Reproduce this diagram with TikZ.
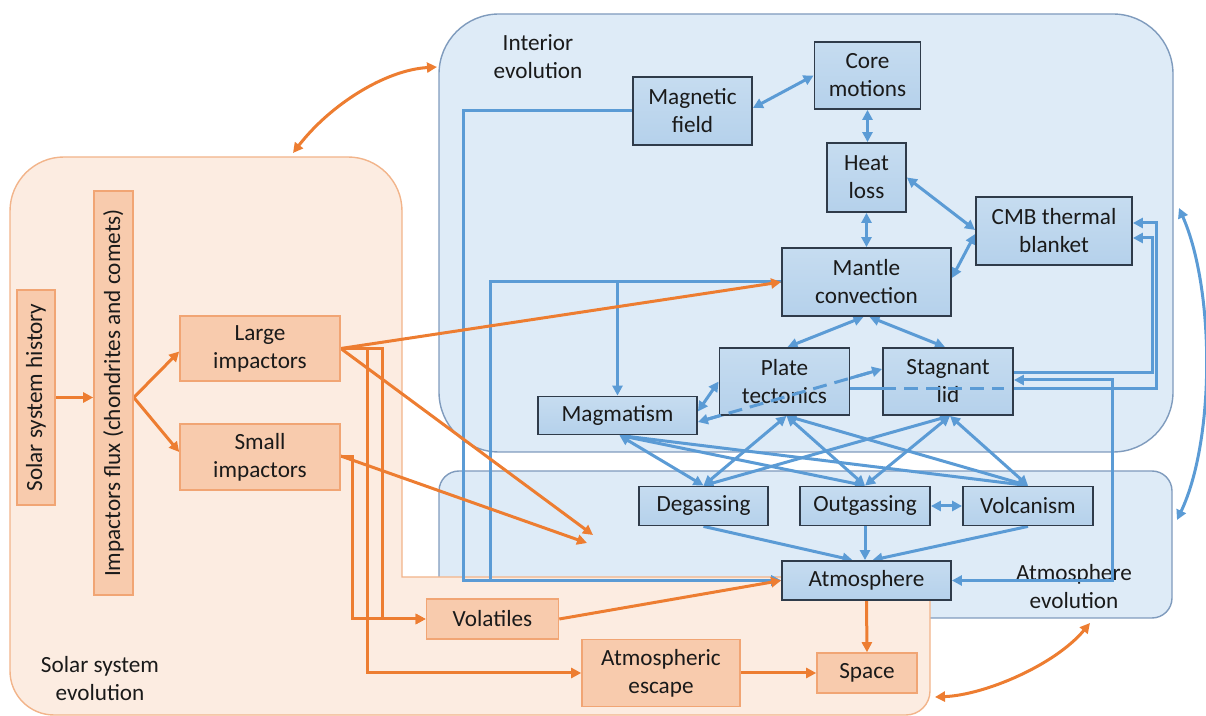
\documentclass[tikz,border=0pt]{standalone}
\usepackage{fontspec}
\setmainfont{Carlito}
\usetikzlibrary{arrows.meta,calc,positioning}
\definecolor{sysfill}{HTML}{FCECE1}
\definecolor{sysline}{HTML}{F2B48A}
\definecolor{obfill}{HTML}{F8CBAD}
\definecolor{obline}{HTML}{F1A574}
\definecolor{oarrow}{HTML}{ED7D31}
\definecolor{regfill}{HTML}{DEEBF7}
\definecolor{regline}{HTML}{7F9BBD}
\definecolor{bbtop}{HTML}{C6DCF0}
\definecolor{bbbot}{HTML}{B5D1EB}
\definecolor{bbline}{HTML}{2F3B4A}
\definecolor{barrow}{HTML}{5B9BD5}
\definecolor{txt}{HTML}{1A1A1A}
\pgfdeclarelayer{regions}
\pgfdeclarelayer{edges}
\pgfsetlayers{regions,edges,main}
\tikzset{
  boxsize/.style 2 args={minimum width=#1*0.5pt, minimum height=#2*0.5pt},
  obox/.style={draw=obline, fill=obfill, line width=0.8pt, align=center, inner sep=1pt},
  bbox/.style={draw=bbline, top color=bbtop, bottom color=bbbot, line width=0.9pt, align=center, inner sep=1pt},
  sysreg/.style={draw=sysline, fill=sysfill, line width=0.7pt},
  region/.style={draw=regline, fill=regfill, line width=0.7pt},
  oline/.style={draw=oarrow, line width=1.5pt},
  oarr/.style={oline, -{Triangle[length=5pt,width=5pt]}},
  odbl/.style={oline, {Triangle[length=5pt,width=5pt]}-{Triangle[length=5pt,width=5pt]}},
  bline/.style={draw=barrow, line width=1.5pt},
  barr/.style={bline, -{Triangle[length=5pt,width=5pt]}},
  bdbl/.style={bline, {Triangle[length=5pt,width=5pt]}-{Triangle[length=5pt,width=5pt]}},
  overdash/.style={bline, dash pattern=on 7pt off 4pt, shorten <=5pt, shorten >=5pt}
}
\begin{document}
\begin{tikzpicture}[x=0.5pt, y=-0.5pt, font=\fontsize{11.6}{14}\selectfont, text=txt]
\useasboundingbox (0,0) rectangle (1206,716);

% orange side
\node[obox, rotate=90, boxsize={215}{38}] (hist) at (36,397.5) {Solar system history};
\node[obox, rotate=90, boxsize={404}{39}] (flux) at (113.5,393) {Impactors flux (chondrites and comets)};
\node[obox, boxsize={160}{65}] (large) at (260,348.5) {Large\\impactors};
\node[obox, boxsize={160}{66}] (small) at (260,457) {Small\\impactors};
\node[obox, boxsize={132}{40}] (vol) at (492.5,619) {Volatiles};
\node[obox, boxsize={158}{67}] (esc) at (661,673) {Atmospheric\\escape};
\node[obox, boxsize={100}{40}] (space) at (867,673) {Space};

% blue side
\node[bbox, boxsize={119}{68}] (mfield) at (692.5,111) {Magnetic\\field};
\node[bbox, boxsize={106}{67}] (core) at (867.5,75.5) {Core\\motions};
\node[bbox, boxsize={79}{69}] (heat) at (866.5,177.5) {Heat\\loss};
\node[bbox, boxsize={156}{68}] (cmb) at (1054,231) {CMB thermal\\blanket};
\node[bbox, boxsize={169}{68}] (mant) at (866.5,282) {Mantle\\convection};
\node[bbox, boxsize={130}{67}] (plate) at (784.5,381.5) {Plate\\tectonics};
\node[bbox, boxsize={130}{67}] (stag) at (948,381.5) {Stagnant\\lid};
\node[bbox, boxsize={159}{38}] (magm) at (617.5,415.5) {Magmatism};
\node[bbox, boxsize={129}{39}] (degas) at (703.5,506) {Degassing};
\node[bbox, boxsize={130}{39}] (outg) at (865,506) {Outgassing};
\node[bbox, boxsize={130}{39}] (volc) at (1028,506) {Volcanism};
\node[bbox, boxsize={169}{39}] (atm) at (866.5,580.5) {Atmosphere};

\coordinate (hitA) at (593,535);
\coordinate (hitB) at (587,543);
\coordinate (lv) at (382,619);
\coordinate (sv) at (352,619);
\coordinate (le) at (367,673);
\coordinate (fbend) at (463,580.5);
\coordinate (mbend) at (490,580.5);
\coordinate (sbend) at (1112,580.5);
\coordinate (cb1) at (1152,238);
\coordinate (cb2) at (1156,223);
\coordinate (sysTop) at (293,153);
\coordinate (intLeft) at (437,67);
\coordinate (intRight) at (1179,208);
\coordinate (atmRight) at (1177,520);
\coordinate (atmBottom) at (1090,623);
\coordinate (sysRight) at (935,697);

\begin{pgfonlayer}{regions}
\draw[region, rounded corners=30pt] (439,14) rectangle (1173,452);
\draw[region, rounded corners=10pt] (439,471) rectangle (1172,618);
\draw[sysreg] (10,400) [rounded corners=27pt] -- (10,157) -- (402,157) -- (402,300) [sharp corners] -- (402,577) -- (930,577) -- (930,650) [rounded corners=12pt] -- (930,715) -- (500,715) [rounded corners=22pt] -- (10,715) -- cycle;
\node[align=center] (intlab) at (538,57) {Interior\\evolution};
\node[align=center] (atmlab) at (1074,587) {Atmosphere\\evolution};
\node[align=center] (syslab) at (100,679) {Solar system\\evolution};
\end{pgfonlayer}

\begin{pgfonlayer}{edges}
\draw[bdbl] ($(mfield.east)+(0,-3)$) -- (core.west);
\draw[bdbl] (core.south) -- (core.south |- heat.north);
\draw[bdbl] (heat.south) -- (heat.south |- mant.north);
\draw[bdbl] (heat.east) -- ($(cmb.west)+(0,-1)$);
\draw[bdbl] ($(mant.east)+(0,-4)$) -- ($(cmb.west)+(0,3)$);
\draw[bdbl] ($(mant.south)+(-3,0)$) -- ($(plate.north)+(3,0)$);
\draw[bdbl] ($(mant.south)+(3,0)$) -- ($(stag.north)+(-3,0)$);
\draw[bdbl] ($(magm.east)+(0,-4)$) -- (plate.west);
\draw[bdbl] ($(magm.east)+(0,6.5)$) -- ($(stag.west)+(0,-12.5)$);
\draw[barr] (mfield.west) -| (fbend) -- (atm.west);
\draw[barr] (mant.west) -| (mbend) -- (atm.west);
\draw[barr] (mant.west) -| (magm.north);
\draw[barr] ($(plate.east)+(0,7.5)$) -| (cb2) -- (cb2 -| cmb.east);
\draw[barr] ($(stag.east)+(0,-8.5)$) -| (cb1) -- (cb1 -| cmb.east);
\draw[bdbl] ($(stag.east)+(0,-1.5)$) -| (sbend) -- (atm.east);
\foreach \a in {magm,plate,stag}
  \foreach \b in {degas,outg,volc}
    \draw[bdbl] ($(\a.south)+(2,0)$) -- (\b.north);
\draw[bdbl] (outg.east) -- (volc.west);
\draw[barr] (degas.south) -- ($(atm.north)+(-14,0)$);
\draw[barr] (outg.south) -- (outg.south |- atm.north);
\draw[barr] (volc.south) -- ($(atm.north)+(6,0)$);
\draw[bdbl] (intRight) .. controls (1215,290) and (1215,440) .. (atmRight);

\draw[oarr] (hist.south) -- (hist.south -| flux.north);
\coordinate (fx) at (hist.south -| flux.south);
\draw[oarr] (fx) -- ($(large.west)+(0,3)$);
\draw[oarr] (fx) -- ($(small.west)+(0,-5)$);
\draw[oarr] (large.east) -- (mant.west);
\draw[oarr] (large.east) -- (hitA);
\draw[oarr] ($(small.east)+(0,-1)$) -- (hitB);
\draw[oarr] (large.east) -| (lv) -- (vol.west);
\draw[oarr] (small.east) -| (sv) -- (vol.west);
\draw[oarr] (large.east) -| (le) -- (esc.west);
\draw[oarr] (vol.east) -- (atm.west);
\draw[oarr] (esc.east) -- (space.west);
\draw[oarr] (atm.south) -- (space.north);
\draw[odbl] (sysTop) .. controls (330,105) and (385,70) .. (intLeft);
\draw[odbl] (atmBottom) .. controls (1055,665) and (985,695) .. (sysRight);
\end{pgfonlayer}

\draw[overdash] ($(magm.east)+(0,6.5)$) -- ($(stag.west)+(0,-12.5)$);
\draw[overdash] ($(plate.east)+(0,7.5)$) -- ($(stag.east)+(0,7.5)$);
\end{tikzpicture}
\end{document}
